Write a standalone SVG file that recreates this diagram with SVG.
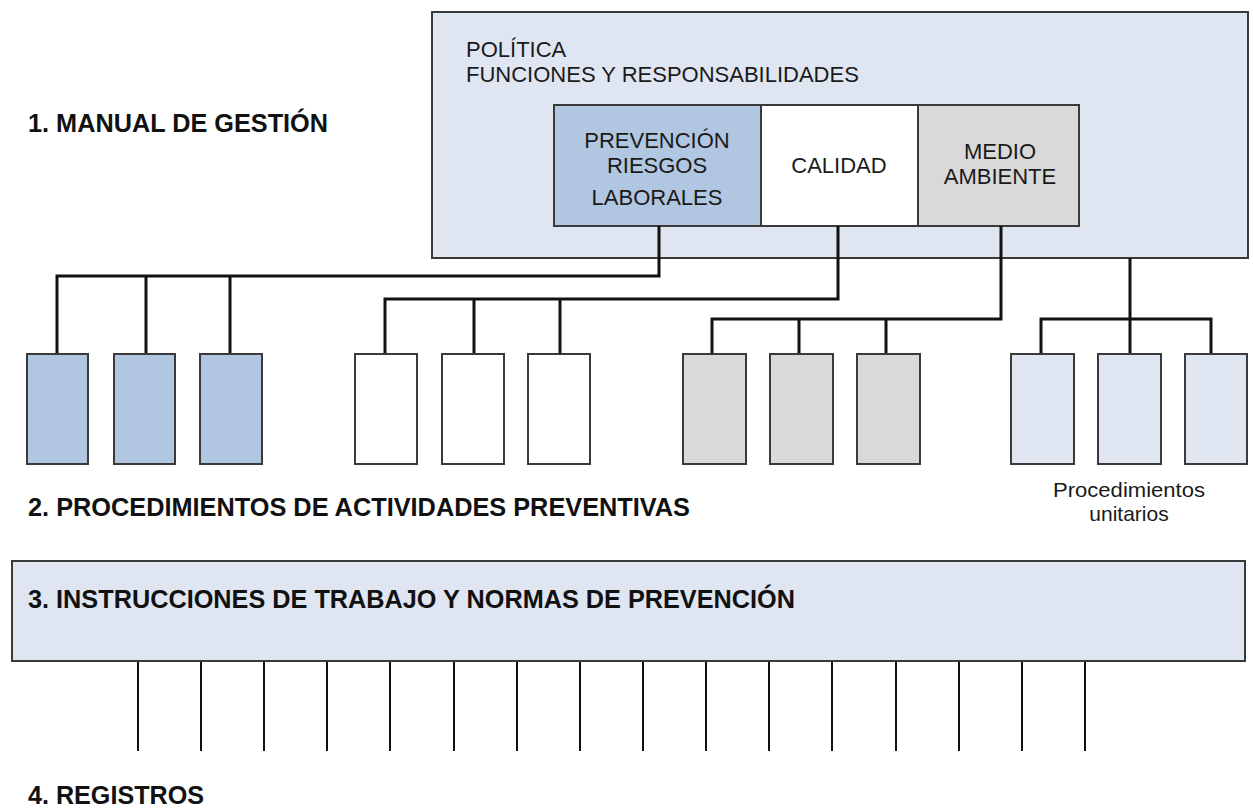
<svg xmlns="http://www.w3.org/2000/svg" width="1253" height="809" viewBox="0 0 1253 809">
<style>
.bg{fill:#ffffff}
.box{stroke:#3a3a3a;stroke-width:2}
.lb{fill:#dfe6f2}
.bl{fill:#b1c6e0}
.wh{fill:#ffffff}
.gr{fill:#d9d9d9}
.con{fill:none;stroke:#111;stroke-width:3;stroke-linejoin:miter}
.thin{fill:none;stroke:#111;stroke-width:2}
.h{font-family:"Liberation Sans",Arial,sans-serif;font-weight:bold;font-size:25px;fill:#111}
.t{font-family:"Liberation Sans",Arial,sans-serif;font-size:22px;fill:#1a1a1a}
.s{font-family:"Liberation Sans",Arial,sans-serif;font-size:21px;fill:#1a1a1a}
.c{text-anchor:middle}
</style>
<rect class="bg" x="0" y="0" width="1253" height="809"/>

<g id="manual">
<rect class="box lb" x="432" y="12" width="816" height="246"/>
<text class="t" x="466" y="57">POLÍTICA</text>
<text class="t" x="466" y="82">FUNCIONES Y RESPONSABILIDADES</text>
</g>
<g id="prl">
<rect class="box bl" x="554" y="105" width="207" height="121"/>
<text class="t c" x="657" y="148">PREVENCIÓN</text>
<text class="t c" x="657" y="173">RIESGOS</text>
<text class="t c" x="657" y="205">LABORALES</text>
</g>
<g id="calidad">
<rect class="box wh" x="761" y="105" width="157" height="121"/>
<text class="t c" x="839" y="173">CALIDAD</text>
</g>
<g id="medio">
<rect class="box gr" x="918" y="105" width="161" height="121"/>
<text class="t c" x="1000" y="159">MEDIO</text>
<text class="t c" x="1000" y="184">AMBIENTE</text>
</g>

<g id="connectors">
<path class="con" d="M659 226 V276 H57 V354 M146 276 V354 M230 276 V354"/>
<path class="con" d="M838 226 V299 H385 V354 M474 299 V354 M560 299 V354"/>
<path class="con" d="M1001 226 V319 H712 V354 M799 319 V354 M886 319 V354"/>
<path class="con" d="M1130 258 V354 M1041 354 V319 H1211 V354"/>
<path class="thin" d="M138 661 V751 M201 661 V751 M264 661 V751 M327 661 V751 M390 661 V751 M454 661 V751 M517 661 V751 M580 661 V751 M643 661 V751 M706 661 V751 M769 661 V751 M832 661 V751 M896 661 V751 M959 661 V751 M1022 661 V751 M1085 661 V751"/>
</g>

<g id="p1"><rect class="box bl" x="27" y="354" width="61" height="110"/></g>
<g id="p2"><rect class="box bl" x="114" y="354" width="61" height="110"/></g>
<g id="p3"><rect class="box bl" x="200" y="354" width="62" height="110"/></g>
<g id="c1"><rect class="box wh" x="355" y="354" width="62" height="110"/></g>
<g id="c2"><rect class="box wh" x="442" y="354" width="62" height="110"/></g>
<g id="c3"><rect class="box wh" x="528" y="354" width="62" height="110"/></g>
<g id="m1"><rect class="box gr" x="683" y="354" width="63" height="110"/></g>
<g id="m2"><rect class="box gr" x="770" y="354" width="63" height="110"/></g>
<g id="m3"><rect class="box gr" x="857" y="354" width="63" height="110"/></g>
<g id="u1"><rect class="box lb" x="1011" y="354" width="63" height="110"/></g>
<g id="u2"><rect class="box lb" x="1098" y="354" width="63" height="110"/></g>
<g id="u3"><rect class="box lb" x="1185" y="354" width="62" height="110"/></g>

<g id="unitarios-label">
<text class="s c" x="1129" y="497" textLength="152" lengthAdjust="spacingAndGlyphs">Procedimientos</text>
<text class="s c" x="1129" y="521">unitarios</text>
</g>

<g id="heading1"><text class="h" x="28" y="132" textLength="300" lengthAdjust="spacingAndGlyphs">1. MANUAL DE GESTIÓN</text></g>
<g id="heading2"><text class="h" x="28" y="516" textLength="662" lengthAdjust="spacingAndGlyphs">2. PROCEDIMIENTOS DE ACTIVIDADES PREVENTIVAS</text></g>
<g id="instrucciones">
<rect class="box lb" x="12" y="561" width="1233" height="100"/>
<text class="h" x="28" y="608" textLength="767" lengthAdjust="spacingAndGlyphs">3. INSTRUCCIONES DE TRABAJO Y NORMAS DE PREVENCIÓN</text>
</g>
<g id="heading4"><text class="h" x="28" y="804" textLength="176" lengthAdjust="spacingAndGlyphs">4. REGISTROS</text></g>
</svg>
